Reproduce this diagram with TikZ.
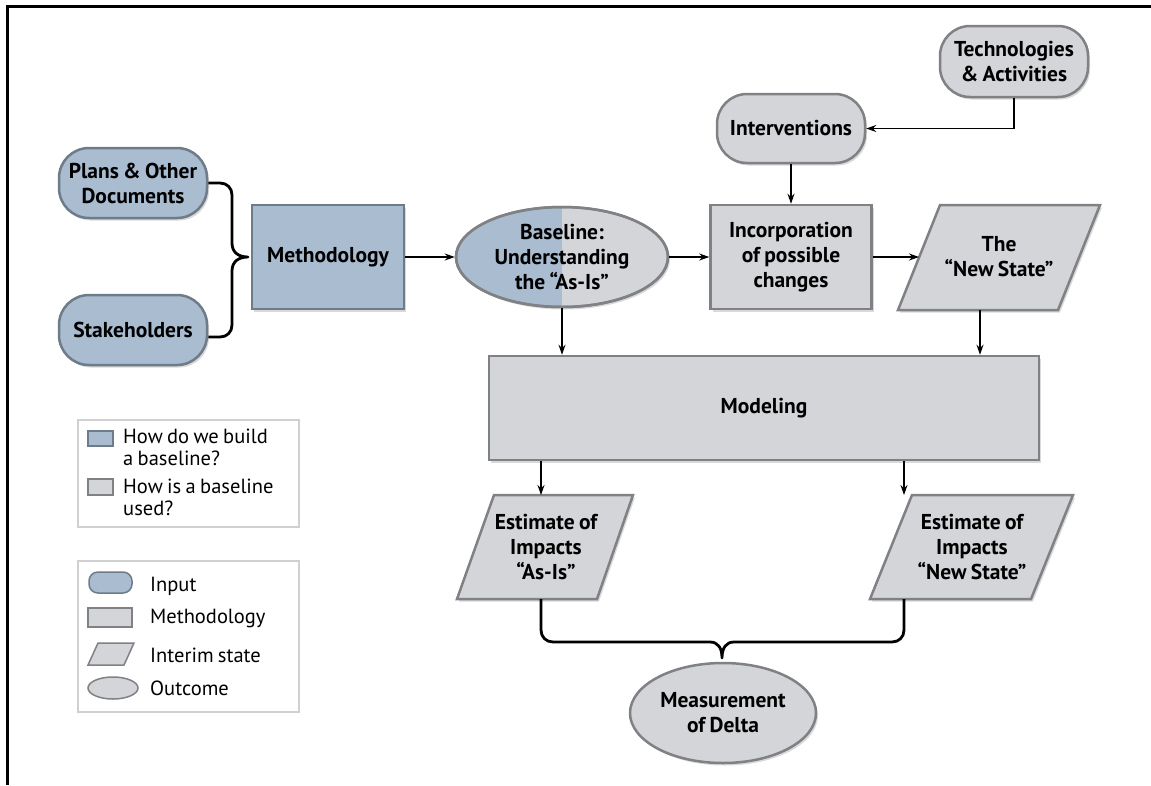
\documentclass[tikz,border=0pt]{standalone}
\usepackage{fontspec}
\setmainfont[WordSpace=0.8]{PT Sans}
\usetikzlibrary{arrows.meta,shadows,calc,shapes.geometric}
\definecolor{bfill}{HTML}{A9BCD0}
\definecolor{bdraw}{HTML}{6E7B89}
\definecolor{gfill}{HTML}{D4D5D8}
\definecolor{gdraw}{HTML}{808184}
\definecolor{lgdraw}{HTML}{D0D0D0}
\begin{document}
\begin{tikzpicture}[x=1pt,y=-1pt,
  shd/.style={drop shadow={shadow xshift=2pt,shadow yshift=-2.5pt,opacity=0.3}},
  txt/.style={font=\bfseries\fontsize{21.5}{25}\selectfont,align=center,text=black},
  blueshape/.style={shd,draw=bdraw,fill=bfill,line width=2.5pt},
  greyshape/.style={shd,draw=gdraw,fill=gfill,line width=2.5pt},
  stadium/.style={rounded corners=30pt,minimum width=148pt,minimum height=70pt,inner sep=0pt},
  boxshape/.style={rectangle,inner sep=0pt},
  ovalshape/.style={ellipse,inner sep=0pt},
  arr/.style={-{Stealth[length=10pt,width=7pt]},line width=1.2pt},
  brace/.style={line width=2.8pt,line join=round},
  legtxt/.style={font=\fontsize{20.5}{22}\selectfont,anchor=base west,inner sep=0pt},
  legbox/.style={draw=lgdraw,line width=2pt,fill=white},
]
\useasboundingbox (0,0) rectangle (1151,785);
% frame (top and left)
\draw[line width=3pt] (7,785) -- (7,6) -- (1151,6);

% input nodes
\node[blueshape,stadium,txt] (plans) at (133,183) {Plans \& Other\\Documents};
\node[blueshape,stadium,txt] (stake) at (133,330) {Stakeholders};
\node[greyshape,stadium,txt,minimum height=69pt] (interv) at (791,128.5) {Interventions};
\node[greyshape,stadium,txt,minimum height=71pt] (tech) at (1014,61.5) {Technologies\\\& Activities};

% methodology boxes
\node[blueshape,boxshape,txt,minimum width=152pt,minimum height=104pt] (meth) at (328,257) {Methodology};
\node[greyshape,boxshape,txt,minimum width=161pt,minimum height=104pt] (inc) at (791,257) {Incorporation\\of possible\\changes};
\node[greyshape,boxshape,txt,minimum width=550pt,minimum height=104pt] (model) at (764,408) {Modeling};

% baseline outcome (half blue / half grey)
\node[greyshape,ovalshape,txt,minimum width=212pt,minimum height=100pt,
  path picture={\fill[bfill] (path picture bounding box.north west) rectangle (path picture bounding box.south);}] (base) at (562,257) {};
\node[txt] (basetext) at (562,257) {Baseline:\\Understanding\\the “As-Is”};
\node[draw=gdraw,line width=2.5pt,ovalshape,minimum width=212pt,minimum height=100pt] (baseb) at (562,257) {};

% measurement outcome
\node[greyshape,ovalshape,txt,minimum width=186pt,minimum height=100pt] (delta) at (723,713) {Measurement\\of Delta};

% interim states (parallelograms)
\coordinate (ns1) at (940,205); \coordinate (ns2) at (1100,205);
\coordinate (ns3) at (1058,310); \coordinate (ns4) at (898,310);
\draw[greyshape,line join=miter] (ns1) -- (ns2) -- (ns3) -- (ns4) -- cycle;
\node[txt] (ns) at (999,257) {The\\“New State”};
\coordinate (nsw) at (919,257);
\coordinate (nsb) at (980,310);

\coordinate (ea1) at (494,495); \coordinate (ea2) at (633,495);
\coordinate (ea3) at (597,599); \coordinate (ea4) at (457,599);
\draw[greyshape,line join=miter] (ea1) -- (ea2) -- (ea3) -- (ea4) -- cycle;
\node[txt] (ea) at (546,547) {Estimate of\\Impacts\\“As-Is”};
\coordinate (eat) at (541,495); \coordinate (eab) at (541,599);

\coordinate (en1) at (912,495); \coordinate (en2) at (1073,495);
\coordinate (en3) at (1031,599); \coordinate (en4) at (870,599);
\draw[greyshape,line join=miter] (en1) -- (en2) -- (en3) -- (en4) -- cycle;
\node[txt] (en) at (972,547) {Estimate of\\Impacts\\“New State”};
\coordinate (ent) at (904,495); \coordinate (enb) at (904,599);

% arrows
\draw[arr] (meth.east) -- (base.west);
\draw[arr] (base.east) -- (inc.west);
\draw[arr] (tech.south) |- (interv.east);
\draw[arr] (interv.south) -- (inc.north);
\draw[arr] (inc.east) -- (nsw);
\draw[arr] (base.south) -- (base.south |- model.north);
\draw[arr] (nsb) -- (nsb |- model.north);
\draw[arr] (eat |- model.south) -- (eat);
\draw[arr] (ent |- model.south) -- (ent);

% left brace
\coordinate (lbc) at (248,257);
\draw[brace] (plans.east) -- (220,183) .. controls (227,183) and (232,188) .. (232,195)
  -- (232,243) .. controls (232,252) and (238,257) .. (lbc)
  .. controls (238,257) and (232,262) .. (232,271)
  -- (232,325) .. controls (232,332) and (227,337) .. (220,337) -- (stake.east |- 0,337);

% bottom brace
\coordinate (bbc) at (722,658);
\draw[brace] (eab) -- (541,630) .. controls (541,637) and (546,642) .. (553,642)
  -- (710,642) .. controls (718,642) and (722,648) .. (bbc)
  .. controls (722,648) and (726,642) .. (734,642)
  -- (892,642) .. controls (899,642) and (904,637) .. (904,630) -- (enb);

% legend 1
\draw[legbox] (78,420) rectangle (299,527);
\draw[fill=bfill,draw=bdraw,line width=1.5pt] (88,431) rectangle (113,446);
\draw[fill=gfill,draw=gdraw,line width=1.5pt] (88,479) rectangle (113,495);
\node[legtxt] (l1a) at (123,443) {How do we build};
\node[legtxt] (l1b) at (123,465) {a baseline?};
\node[legtxt] (l2a) at (123,493) {How is a baseline};
\node[legtxt] (l2b) at (123,515) {used?};

% legend 2
\draw[legbox] (78,561) rectangle (299,712);
\draw[fill=bfill,draw=bdraw,line width=1.5pt,rounded corners=9pt] (89,572) rectangle (132,593);
\draw[fill=gfill,draw=gdraw,line width=1.5pt] (88,608) rectangle (132,627);
\draw[fill=gfill,draw=gdraw,line width=1.5pt,line join=miter] (98,643) -- (134,643) -- (124,665) -- (88,665) -- cycle;
\draw[fill=gfill,draw=gdraw,line width=1.5pt] (113,688) ellipse[x radius=25pt,y radius=11pt];
\node[legtxt] (k1) at (150,591) {Input};
\node[legtxt] (k2) at (150,623) {Methodology};
\node[legtxt] (k3) at (150,662) {Interim state};
\node[legtxt] (k4) at (150,695) {Outcome};
\end{tikzpicture}
\end{document}
